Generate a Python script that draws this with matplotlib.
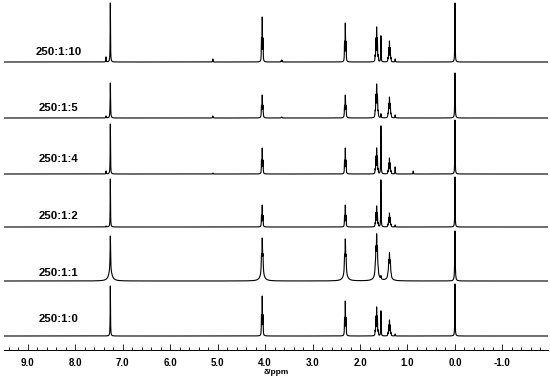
import numpy as np
import matplotlib
matplotlib.use("Agg")
import matplotlib.pyplot as plt
from matplotlib.ticker import MultipleLocator, FormatStrFormatter
from matplotlib.transforms import blended_transform_factory

# ---- data ----
sample_labels = ["250:1:10", "250:1:5", "250:1:4", "250:1:2", "250:1:1", "250:1:0"]
# peak positions (ppm) shared by all traces
peak_ppm = [7.35, 7.26, 5.10, 4.06, 3.65, 2.31, 1.65, 1.56, 1.38, 1.26, 0.88, 0.00]
peak_mult = [1, 1, 1, 3, 3, 3, 5, 1, 5, 1, 1, 1]
# sharp peak heights (plot units) per trace
h_250_1_10 = [5, 59, 3, 45, 2, 39, 35, 26, 21, 3, 0, 59]
h_250_1_5 = [2, 35, 2, 23, 1, 23, 34, 4, 21, 3, 0, 45]
h_250_1_4 = [3, 50, 1, 26, 0, 26, 26, 48, 16, 7, 3, 54]
h_250_1_2 = [1, 48, 0, 22, 0, 22, 21, 47, 14, 2, 0, 50]
h_250_1_1 = [0, 35, 0, 34, 0, 33, 37, 3, 22, 0, 0, 50]
h_250_1_0 = [0, 50, 0, 40, 0, 35, 29, 25, 16, 2, 0, 52]
# broad (wing) component heights, only the 250:1:1 trace has them
b_250_1_1 = [0, 10, 0, 9, 0, 9, 10, 0, 6, 0, 0, 0]
zeros = [0] * len(peak_ppm)
heights = [h_250_1_10, h_250_1_5, h_250_1_4, h_250_1_2, h_250_1_1, h_250_1_0]
broad_heights = [zeros, zeros, zeros, zeros, b_250_1_1, zeros]
line_width_ppm = [0.004, 0.005, 0.004, 0.004, 0.006, 0.004]
x_ticks = [9.0, 8.0, 7.0, 6.0, 5.0, 4.0, 3.0, 2.0, 1.0, 0.0, -1.0]

# ---- layout ----
AX_PX = 350
baselines = [AX_PX - b for b in (62, 118, 174, 227, 281, 336)]
label_dy = [10, 10, 15, 11, 8, 17]
J = 0.016
BROAD_G = 0.04

plt.rcParams['font.family'] = ['Liberation Sans', 'DejaVu Sans']
fig = plt.figure(figsize=(5.5, 3.81), dpi=100)
ax = fig.add_axes([4/550, (381-AX_PX)/381, 544/550, AX_PX/381])

x = np.linspace(9.5, -1.96, 30000)

def lor(x, x0, g):
    return g**2 / ((x - x0)**2 + g**2)

def multiplet(x, c, n, g):
    coeffs = np.array([1.0])
    for _ in range(n - 1):
        coeffs = np.convolve(coeffs, [1, 1])
    y = np.zeros_like(x)
    for i, a in enumerate(coeffs):
        y += a * lor(x, c + (i - (n - 1) / 2) * J, g)
    return y / y.max()

for k, (hs, bs, base) in enumerate(zip(heights, broad_heights, baselines)):
    g = line_width_ppm[k]
    y = np.zeros_like(x)
    for c, n, h, hb in zip(peak_ppm, peak_mult, hs, bs):
        if h > 0:
            y += h * multiplet(x, c, n, g)
        if hb > 0:
            y += hb * lor(x, c, BROAD_G)
    ax.plot(x, y + base, color='black', lw=0.8)
    ax.text(0.1, base + label_dy[k], sample_labels[k],
            transform=blended_transform_factory(ax.transAxes, ax.transData),
            ha='center', va='center', fontsize=8.2, fontweight='bold')

ax.set_xlim(9.5, -1.96)
ax.set_ylim(0, AX_PX)
ax.set_xticks(x_ticks)
ax.xaxis.set_major_formatter(FormatStrFormatter('%.1f'))
ax.xaxis.set_minor_locator(MultipleLocator(0.2))
ax.tick_params(axis='x', which='major', direction='in', length=4, width=0.6, pad=6,
               labelsize=7)
ax.tick_params(axis='x', which='minor', direction='in', length=2.5, width=0.6)
for lab in ax.get_xticklabels():
    lab.set_fontweight('bold')
ax.set_yticks([])
for s in ['top', 'left', 'right']:
    ax.spines[s].set_visible(False)
ax.spines['bottom'].set_linewidth(0.7)
ax.set_xlabel('δ/ppm', fontsize=6, fontweight='bold', labelpad=0.5)

fig.savefig('out.png', dpi=100)
